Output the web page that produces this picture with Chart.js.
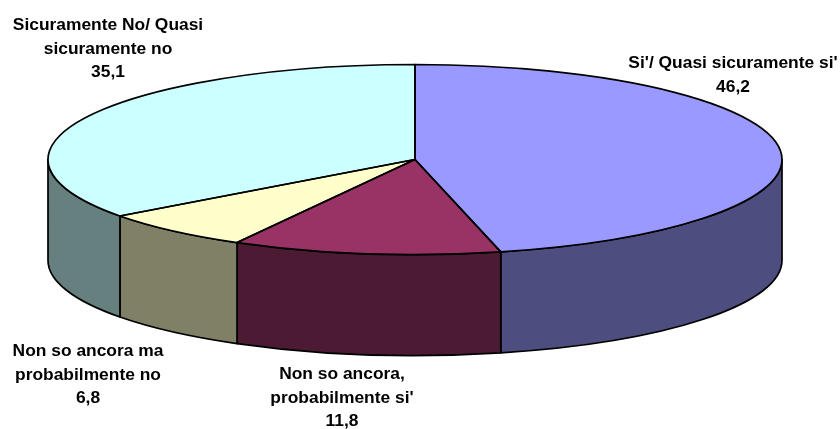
<!DOCTYPE html>
<html>
<head>
<meta charset="utf-8">
<style>
  html, body { margin: 0; padding: 0; background: #fff; overflow: hidden; }
  canvas { display: block; }
</style>
<script src="https://cdn.jsdelivr.net/npm/chart.js@4"></script>
</head>
<body>
<canvas id="myChart" width="840" height="429"></canvas>
<script>
const categories = [
  "Si'/ Quasi sicuramente si'",
  "Non so ancora, probabilmente si'",
  "Non so ancora ma probabilmente no",
  "Sicuramente No/ Quasi sicuramente no"
];
const values = [46.2, 11.8, 6.8, 35.1];
const valueLabels = ["46,2", "11,8", "6,8", "35,1"];
const labelLines = [
  ["Si'/ Quasi sicuramente si'"],
  ["Non so ancora,", "probabilmente si'"],
  ["Non so ancora ma", "probabilmente no"],
  ["Sicuramente No/ Quasi", "sicuramente no"]
];
const topColors = ["#9999ff", "#993366", "#ffffcc", "#ccffff"];
const wallColors = ["#4d4d80", "#4d1a33", "#808066", "#668080"];

// where the text blocks sit: centre x, y of first line
const labelPos = [[733, 63.5], [342, 374.5], [88, 351.5], [108, 25.5]];
const lineGap = 23.5;

// look of the tilted pie
const radiusX = 367;
const radiusY = 95;
const depth = 101;
const tilt = radiusY / radiusX;

const pie3d = {
  id: 'pie3d',
  beforeDatasetsDraw(chart) {
    const ctx = chart.ctx;
    const arcs = chart.getDatasetMeta(0).data;

    // side walls, only the part of each slice facing us
    arcs.forEach((arc, i) => {
      const a = Math.max(arc.startAngle, 0);
      const b = Math.min(arc.endAngle, Math.PI);
      if (b <= a) return;
      ctx.beginPath();
      ctx.ellipse(arc.x, arc.y, arc.outerRadius, arc.outerRadius * tilt, 0, a, b);
      ctx.ellipse(arc.x, arc.y + depth, arc.outerRadius, arc.outerRadius * tilt, 0, b, a, true);
      ctx.closePath();
      ctx.fillStyle = wallColors[i];
      ctx.fill();
      ctx.lineWidth = 1.7;
      ctx.strokeStyle = '#000';
      ctx.lineJoin = 'round';
      ctx.stroke();
    });

    // squash the flat pie into an ellipse
    const first = arcs[0];
    ctx.save();
    ctx.translate(first.x, first.y);
    ctx.scale(1, tilt);
    ctx.translate(-first.x, -first.y);
  },
  afterDatasetsDraw(chart) {
    const ctx = chart.ctx;
    ctx.restore();

    // outlines drawn unscaled so the line keeps its width
    chart.getDatasetMeta(0).data.forEach(arc => {
      ctx.beginPath();
      ctx.moveTo(arc.x, arc.y);
      ctx.ellipse(arc.x, arc.y, arc.outerRadius, arc.outerRadius * tilt, 0, arc.startAngle, arc.endAngle);
      ctx.closePath();
      ctx.lineWidth = 1.7;
      ctx.strokeStyle = '#000';
      ctx.lineJoin = 'round';
      ctx.stroke();
    });

    // labels
    ctx.save();
    ctx.font = 'bold 17.4px "Liberation Sans", Arial, sans-serif';
    ctx.fillStyle = '#000';
    ctx.textAlign = 'center';
    ctx.textBaseline = 'middle';
    labelLines.forEach((lines, i) => {
      const [x, y] = labelPos[i];
      lines.concat(valueLabels[i]).forEach((line, n) => {
        ctx.fillText(line, x, y + n * lineGap);
      });
    });
    ctx.restore();
  }
};

new Chart(document.getElementById('myChart').getContext('2d'), {
  type: 'pie',
  data: {
    labels: categories,
    datasets: [{
      data: values,
      backgroundColor: topColors,
      borderWidth: 0,
      clip: false
    }]
  },
  options: {
    responsive: false,
    animation: false,
    radius: radiusX,
    layout: { padding: { left: 0, right: 10, top: 0, bottom: 110 } },
    plugins: {
      legend: { display: false },
      tooltip: { enabled: false }
    }
  },
  plugins: [pie3d]
});
</script>
</body>
</html>
